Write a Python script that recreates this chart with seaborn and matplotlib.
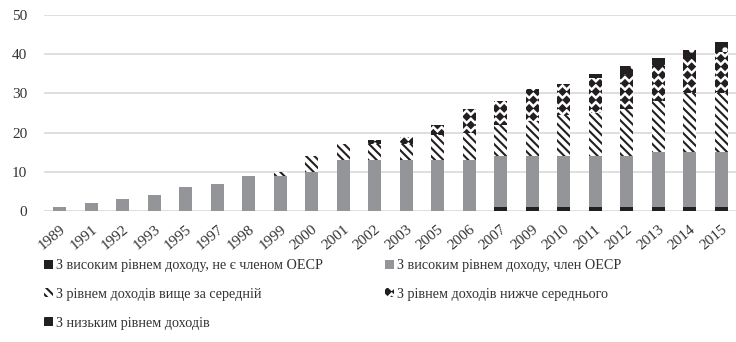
import numpy as np
import pandas as pd
import matplotlib
matplotlib.use("Agg")
import matplotlib.pyplot as plt
import matplotlib.hatch as mhatch
import matplotlib.patches as mpatches
import matplotlib.transforms as mtrans
from matplotlib.path import Path
import seaborn as sns

# ---------------- data ----------------
years = ["1989", "1991", "1992", "1993", "1995", "1997", "1998", "1999", "2000",
         "2001", "2002", "2003", "2005", "2006", "2007", "2009", "2010", "2011",
         "2012", "2013", "2014", "2015"]
high_non_oecd = [0, 0, 0, 0, 0, 0, 0, 0, 0, 0, 0, 0, 0, 0, 1, 1, 1, 1, 1, 1, 1, 1]
high_oecd = [1, 2, 3, 4, 6, 7, 9, 9, 10, 13, 13, 13, 13, 13, 13, 13, 13, 13, 13, 14, 14, 14]
upper_middle = [0, 0, 0, 0, 0, 0, 0, 1, 4, 4, 4, 4, 6.5, 7, 8, 9, 10.5, 11, 12, 13, 15, 15]
lower_middle = [0, 0, 0, 0, 0, 0, 0, 0, 0, 0, 1, 2, 2.5, 6, 6, 8, 8, 9, 9, 9, 9, 10.5]
low_income = [0, 0, 0, 0, 0, 0, 0, 0, 0, 0, 0, 0, 0, 0, 0, 0, 0, 1, 2, 2, 2, 2.5]

labels = ["З високим рівнем доходу, не є членом ОЕСР",
          "З високим рівнем доходу, член ОЕСР",
          "З рівнем доходів вище за середній",
          "З рівнем доходів нижче середнього",
          "З низьким рівнем доходів"]

# ---------------- custom filled-diamond hatch (replaces '*') ----------------
class FilledDiamonds(mhatch.Shapes):
    size = 0.36
    filled = True

    def __init__(self, hatch, density):
        self.num_rows = hatch.count('*') * density
        path = Path.unit_regular_polygon(4)
        self.shape_vertices = path.vertices
        self.shape_codes = path.codes
        super().__init__(hatch, density)

mhatch._hatch_types = [FilledDiamonds if c is mhatch.Stars else c
                       for c in mhatch._hatch_types]

# ---------------- style ----------------
sns.set_theme(style="white")
plt.rcParams['font.family'] = ['Liberation Serif', 'DejaVu Serif']
plt.rcParams['hatch.linewidth'] = 1.5
text_color = '#333333'

BLACK = '#231f20'
GRAY = '#939598'

fig = plt.figure(figsize=(7.36, 3.42), dpi=100)
ax = fig.add_axes([44 / 736, 1 - 211 / 342, (737 - 44) / 736, (211 - 15) / 342])

series = [
    (high_non_oecd, dict(color=BLACK, edgecolor=BLACK, hatch=None)),
    (high_oecd, dict(color=GRAY, edgecolor=GRAY, hatch=None)),
    (upper_middle, dict(color='white', edgecolor=BLACK, hatch='\\\\\\\\')),
    (lower_middle, dict(color='white', edgecolor=BLACK, hatch='**')),
    (low_income, dict(color=BLACK, edgecolor='white', hatch='.')),
]

bottom = np.zeros(len(years))
handles = []
for (vals, st), lab in zip(series, labels):
    df = pd.DataFrame({"year": years, "value": vals})
    kw = dict(color=st['color'], edgecolor=st['edgecolor'], linewidth=0)
    if st['hatch']:
        kw['hatch'] = st['hatch']
    sns.barplot(data=df, x="year", y="value", order=years, bottom=bottom,
                width=0.4, saturation=1, ax=ax, **kw)
    bottom = bottom + np.array(vals, dtype=float)
    h = mpatches.Patch(facecolor=st['color'], edgecolor=st['edgecolor'],
                       linewidth=0, hatch=st['hatch'])
    handles.append(h)

ax.set_ylim(0, 50)
ax.set_yticks(range(0, 51, 10))
ax.set_xlim(-0.5, len(years) - 0.5)
ax.set_xlabel("")
ax.set_ylabel("")
for s in ax.spines.values():
    s.set_visible(False)
ax.grid(axis='y', color='#d9d9d9', linewidth=1.2)
ax.set_axisbelow(True)
ax.tick_params(axis='both', length=0, colors=text_color)
ax.tick_params(axis='y', pad=12, labelsize=11)
ax.tick_params(axis='x', pad=12, labelsize=11)
shift = mtrans.ScaledTranslation(3 / 72, 0, fig.dpi_scale_trans)
for t in ax.get_xticklabels():
    t.set_rotation(40)
    t.set_ha('right')
    t.set_va('center')
    t.set_rotation_mode('anchor')
    t.set_transform(t.get_transform() + shift)

order = [0, 2, 4, 1, 3]
leg = fig.legend([handles[i] for i in order], [labels[i] for i in order],
                 loc='upper left', bbox_to_anchor=(44 / 736, 1 - 259 / 342),
                 ncol=2, frameon=False, fontsize=10.2,
                 handlelength=0.6, handleheight=0.6, handletextpad=0.25,
                 columnspacing=4.4, labelspacing=1.12, borderpad=0,
                 borderaxespad=0)
for t in leg.get_texts():
    t.set_color(text_color)

fig.savefig("out.png", dpi=100)
